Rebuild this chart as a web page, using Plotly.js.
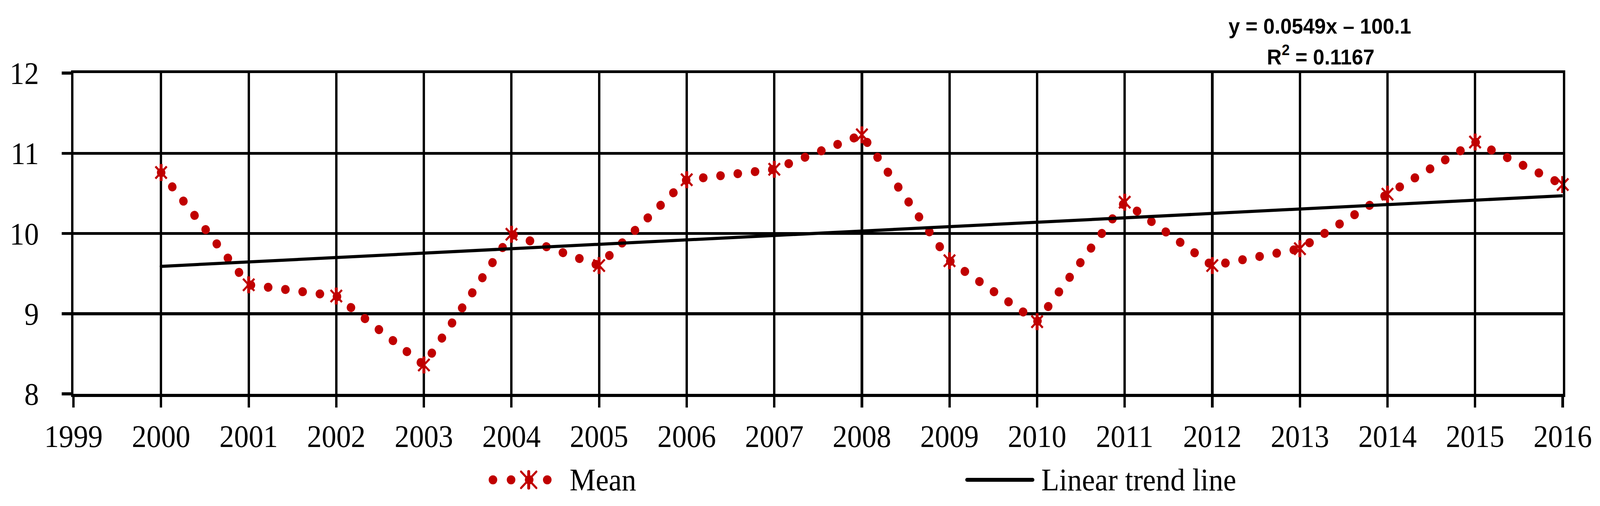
<!DOCTYPE html>
<html>
<head>
<meta charset="utf-8">
<script src="https://cdn.plot.ly/plotly-3.0.1.min.js"></script>
<style>
  html, body { margin: 0; padding: 0; background: #fff; overflow: hidden; }
  #chart { transform-origin: 0 0; }
  /* Excel-like round dots for the dotted series */
  .scatterlayer .js-line, .shapelayer path { stroke-linecap: round; }
</style>
</head>
<body>
<div id="chart"></div>
<script>
// data
const years = [2000, 2001, 2002, 2003, 2004, 2005, 2006, 2007, 2008, 2009, 2010, 2011, 2012, 2013, 2014, 2015, 2016];
const meanValues = [10.76, 9.36, 9.22, 8.36, 9.99, 9.60, 10.67, 10.80, 11.23, 9.66, 8.90, 10.39, 9.60, 9.81, 10.49, 11.14, 10.61];
const trendYears = [2000, 2016];
const trendValues = [9.59, 10.47];
const xTicks = [1999, 2000, 2001, 2002, 2003, 2004, 2005, 2006, 2007, 2008, 2009, 2010, 2011, 2012, 2013, 2014, 2015, 2016];
const yTicks = [8, 9, 10, 11, 12];
const equationText = 'y = 0.0549x – 100.1';
const r2Text = 'R<sup>2</sup> = 0.1167';
const legendNames = ['Mean', 'Linear trend line'];

const RED = '#C00000';
const SERIF = '"Liberation Serif", "Times New Roman", serif';
const SANS = '"Liberation Sans", Arial, sans-serif';

const W = 4376, H = 1295;
const M = {l: 201, r: 102, t: 187, b: 287};
const pw = W - M.l - M.r, ph = H - M.t - M.b;
const px = p => (p - M.l) / pw;          // pixel x -> paper
const py = p => (H - M.b - p) / ph;      // pixel y -> paper

// the window may be narrower than the figure: squeeze horizontally to fit
const fit = Math.min(1, window.innerWidth / W);
document.getElementById('chart').style.transform = `scaleX(${fit})`;

const traces = [
  {
    type: 'scatter', mode: 'lines+markers', name: legendNames[0],
    x: years, y: meanValues,
    line: {color: RED, width: 23, dash: '0.5px,47px'},
    marker: {symbol: 'x-thin-open', size: 31, color: RED, line: {color: RED, width: 5.5}},
    cliponaxis: false, showlegend: false
  },
  {
    type: 'scatter', mode: 'markers', name: legendNames[0] + ' marker',
    x: years, y: meanValues,
    marker: {symbol: 'line-ns-open', size: 31, color: RED, line: {color: RED, width: 8}},
    cliponaxis: false, showlegend: false
  },
  {
    type: 'scatter', mode: 'lines', name: legendNames[1],
    x: trendYears, y: trendValues,
    line: {color: '#000', width: 8},
    cliponaxis: false, showlegend: false
  }
];

// hand-built legend (Excel style: long samples)
const legY = 1228, legMarkX = 1446, arm = 21;
const shapes = [
  {type: 'line', xref: 'paper', yref: 'paper', x0: px(1348), x1: px(1500), y0: py(legY), y1: py(legY),
   line: {color: RED, width: 23, dash: '0.5px,49px'}},
  {type: 'path', xref: 'paper', yref: 'paper',
   path: `M${px(legMarkX - arm)},${py(legY - arm)}L${px(legMarkX + arm)},${py(legY + arm)}M${px(legMarkX + arm)},${py(legY - arm)}L${px(legMarkX - arm)},${py(legY + arm)}`,
   line: {color: RED, width: 5.5}},
  {type: 'path', xref: 'paper', yref: 'paper',
   path: `M${px(legMarkX)},${py(legY - arm)}L${px(legMarkX)},${py(legY + arm)}`,
   line: {color: RED, width: 8}},
  {type: 'line', xref: 'paper', yref: 'paper', x0: px(2645), x1: px(2824), y0: py(legY), y1: py(legY),
   line: {color: '#000', width: 10}}
];

const annotations = [
  {xref: 'paper', yref: 'paper', x: px(1556), y: py(legY), xanchor: 'left', yanchor: 'middle', showarrow: false,
   text: legendNames[0], font: {family: SERIF, size: 80, color: '#000'}},
  {xref: 'paper', yref: 'paper', x: px(2846), y: py(legY), xanchor: 'left', yanchor: 'middle', showarrow: false,
   text: legendNames[1], font: {family: SERIF, size: 80, color: '#000'}},
  {xref: 'paper', yref: 'paper', x: px(3610), y: py(66), xanchor: 'center', yanchor: 'middle', showarrow: false,
   text: '<b>' + equationText + '</b>', font: {family: SANS, size: 56, color: '#000'}},
  {xref: 'paper', yref: 'paper', x: px(3612), y: py(142), xanchor: 'center', yanchor: 'middle', showarrow: false,
   text: '<b>' + r2Text + '</b>', font: {family: SANS, size: 56, color: '#000'}}
];

const layout = {
  width: W, height: H,
  margin: M,
  paper_bgcolor: '#fff', plot_bgcolor: '#fff',
  font: {family: SERIF, color: '#000', size: 80},
  showlegend: false,
  xaxis: {
    range: [1999, 2016], tickmode: 'array', tickvals: xTicks, ticktext: xTicks.map(String),
    showgrid: true, gridcolor: '#000', gridwidth: 6.5,
    showline: true, linecolor: '#000', linewidth: 7.5, mirror: true,
    ticks: 'outside', ticklen: 27, tickwidth: 6.5, tickcolor: '#000',
    ticklabelstandoff: 6,
    zeroline: false, tickfont: {family: SERIF, size: 80, color: '#000'}
  },
  yaxis: {
    range: [8, 12], tickmode: 'array', tickvals: yTicks, ticktext: yTicks.map(String),
    showgrid: true, gridcolor: '#000', gridwidth: 7.5,
    showline: true, linecolor: '#000', linewidth: 6.5, mirror: true,
    ticks: 'outside', ticklen: 26, tickwidth: 7.5, tickcolor: '#000',
    ticklabelstandoff: 46,
    zeroline: false, tickfont: {family: SERIF, size: 80, color: '#000'}
  },
  shapes: shapes,
  annotations: annotations
};

Plotly.newPlot('chart', traces, layout, {staticPlot: true, displayModeBar: false});
</script>
</body>
</html>
